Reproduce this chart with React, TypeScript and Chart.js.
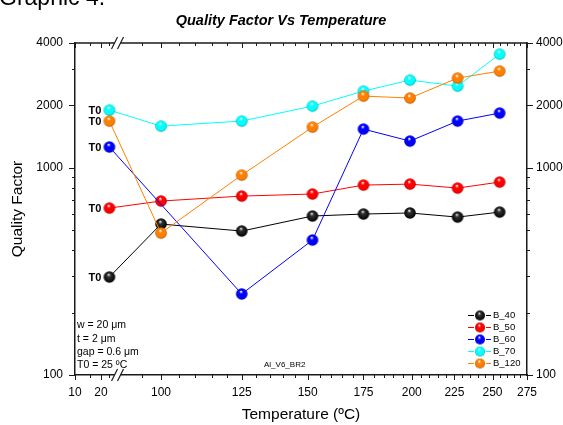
import React, { useEffect, useRef } from 'react';
import { Chart, registerables, LinearScale } from 'chart.js';

const FONT = "'Liberation Sans', Arial, Helvetica, sans-serif";

// ---- data ----
const TEMPS = [25, 100, 125, 152, 175, 199, 227, 255];
const B_40 = [297, 535, 495, 585, 598, 605, 578, 611];
const B_50 = [639, 691, 730, 747, 825, 834, 798, 853];
const B_60 = [1259, null, 246, 448, 1537, 1345, 1680, 1836];
const B_70 = [1898, 1589, 1680, 1984, 2344, 2649, 2478, 3536];
const B_120 = [1680, 484, 922, 1571, 2218, 2170, 2708, 2928];
const SERIES = [B_40, B_50, B_60, B_70, B_120];
const SERIES_NAMES = ['B_40', 'B_50', 'B_60', 'B_70', 'B_120'];
const SERIES_COLORS = ['#000000', '#ff0000', '#0000ff', '#00ffff', '#ff8000'];

const X_TICKS = [10, 20, 100, 125, 150, 175, 200, 225, 250, 275];
const X_MINOR_A = [15, 25];
const Y_TICKS = [100, 1000, 2000, 4000];
const Y_MINOR = [200, 300, 400, 500, 600, 700, 800, 900, 3000];

const TITLE = 'Quality Factor Vs Temperature';
const X_TITLE = 'Temperature (ºC)';
const Y_TITLE = 'Quality Factor';
const HEADER = 'Graphic 4.';
const NOTES = ['w = 20 μm', 't = 2 μm', 'gap = 0.6 μm', 'T0 = 25 ºC'];
const SAMPLE = 'Al_V6_BR2';
const T0_LABEL = 'T0';

// ---- broken log x axis definition ----
const SEG_A = { lo: 10, hi: 30, f0: 0, f1: 0.0912 };
const SEG_B = { lo: 89, hi: 275, f0: 0.097, f1: 1 };

function segFrac(v: number, s: any) {
  return s.f0 + ((Math.log10(v) - Math.log10(s.lo)) / (Math.log10(s.hi) - Math.log10(s.lo))) * (s.f1 - s.f0);
}
function segVal(f: number, s: any) {
  const t = (f - s.f0) / (s.f1 - s.f0);
  return Math.pow(10, Math.log10(s.lo) + t * (Math.log10(s.hi) - Math.log10(s.lo)));
}
function brokenFrac(v: number) {
  if (v <= SEG_A.hi) return segFrac(Math.max(v, 1e-6), SEG_A);
  if (v >= SEG_B.lo) return segFrac(v, SEG_B);
  return SEG_A.f1 + ((v - SEG_A.hi) / (SEG_B.lo - SEG_A.hi)) * (SEG_B.f0 - SEG_A.f1);
}
function brokenValue(f: number) {
  if (f <= SEG_A.f1) return segVal(f, SEG_A);
  if (f >= SEG_B.f0) return segVal(f, SEG_B);
  return SEG_A.hi + ((f - SEG_A.f1) / (SEG_B.f0 - SEG_A.f1)) * (SEG_B.lo - SEG_A.hi);
}

class BrokenLogScale extends LinearScale {
  static id = 'brokenlog';
  static defaults = LinearScale.defaults;
  determineDataLimits() {
    (this as any).min = SEG_A.lo;
    (this as any).max = SEG_B.hi;
  }
  buildTicks() {
    return X_TICKS.map((value) => ({ value }));
  }
  getPixelForValue(value: number) {
    return (this as any).getPixelForDecimal(brokenFrac(value));
  }
  getValueForPixel(pixel: number) {
    return brokenValue((this as any).getDecimalForPixel(pixel));
  }
}

Chart.register(...registerables, BrokenLogScale as any);

function darken(hex: string, k: number) {
  const n = parseInt(hex.slice(1), 16);
  const r = Math.round(((n >> 16) & 255) * k);
  const g = Math.round(((n >> 8) & 255) * k);
  const b = Math.round((n & 255) * k);
  return `rgb(${r},${g},${b})`;
}

function makeSphere(color: string, r: number) {
  const size = Math.ceil(2 * r + 2);
  const c = document.createElement('canvas');
  c.width = size;
  c.height = size;
  const g = c.getContext('2d') as CanvasRenderingContext2D;
  const cx = size / 2;
  const cy = size / 2;
  const isBlack = color === '#000000';
  const grad = g.createRadialGradient(cx - r * 0.15, cy - r * 0.45, r * 0.05, cx, cy, r);
  grad.addColorStop(0, isBlack ? '#e0e0e0' : '#ffffff');
  grad.addColorStop(0.3, isBlack ? '#303030' : color);
  grad.addColorStop(0.8, isBlack ? '#101010' : color);
  grad.addColorStop(1, isBlack ? '#000000' : darken(color, 0.65));
  g.fillStyle = grad;
  g.beginPath();
  g.arc(cx, cy, r, 0, Math.PI * 2);
  g.fill();
  return c;
}

const AXIS_COLOR = '#1a1a1a';

export default function App() {
  const ref = useRef<HTMLCanvasElement>(null);

  useEffect(() => {
    const sprites = SERIES_COLORS.map((c) => makeSphere(c, 5.8));
    const legendSprites = SERIES_COLORS.map((c) => makeSphere(c, 5));

    const decor = {
      id: 'decor',
      afterDraw(chart: any) {
        const { ctx, chartArea: ca, scales } = chart;
        const xs = scales.x;
        const ys = scales.y;
        ctx.save();
        const seg = (x1: number, y1: number, x2: number, y2: number) => {
          ctx.beginPath();
          ctx.moveTo(x1, y1);
          ctx.lineTo(x2, y2);
          ctx.stroke();
        };
        // top axis line
        ctx.strokeStyle = AXIS_COLOR;
        ctx.lineWidth = 1.5;
        seg(ca.left - 0.75, ca.top, ca.right + 0.75, ca.top);

        // ticks
        ctx.lineWidth = 1;
        const xMinor: number[] = [...X_MINOR_A];
        for (let v = 95; v < 275; v += 5) if (v % 25 !== 0) xMinor.push(v);
        X_TICKS.forEach((v) => {
          const p = Math.round(xs.getPixelForValue(v)) + 0.5;
          seg(p, ca.bottom, p, ca.bottom + 5);
          seg(p, ca.top, p, ca.top + 5);
        });
        xMinor.forEach((v) => {
          const p = Math.round(xs.getPixelForValue(v)) + 0.5;
          seg(p, ca.bottom, p, ca.bottom + 3);
          seg(p, ca.top, p, ca.top + 3);
        });
        Y_TICKS.forEach((v) => {
          const p = Math.round(ys.getPixelForValue(v)) + 0.5;
          seg(ca.left - 6, p, ca.left, p);
          seg(ca.right, p, ca.right + 6, p);
        });
        Y_MINOR.forEach((v) => {
          const p = Math.round(ys.getPixelForValue(v)) + 0.5;
          seg(ca.left - 3, p, ca.left, p);
          seg(ca.right, p, ca.right + 3, p);
        });

        // axis break marks
        const bx = (xs.getPixelForValue(SEG_A.hi) + xs.getPixelForValue(SEG_B.lo)) / 2;
        [ca.top, ca.bottom].forEach((yy: number) => {
          ctx.fillStyle = '#ffffff';
          ctx.fillRect(bx - 3, yy - 2, 6, 4);
          ctx.strokeStyle = AXIS_COLOR;
          ctx.lineWidth = 1.2;
          [bx - 3, bx + 3].forEach((s) => seg(s - 3, yy + 6, s + 3, yy - 6));
        });

        // title & header
        ctx.fillStyle = '#000';
        ctx.textAlign = 'center';
        ctx.textBaseline = 'middle';
        ctx.font = `italic bold 14.5px ${FONT}`;
        ctx.fillText(TITLE, 281, 21);
        ctx.textAlign = 'left';
        ctx.textBaseline = 'alphabetic';
        ctx.font = `23px ${FONT}`;
        ctx.fillText(HEADER, -1, 5);

        // T0 labels
        ctx.font = `bold 11px ${FONT}`;
        ctx.textAlign = 'right';
        ctx.textBaseline = 'middle';
        chart.data.datasets.forEach((_d: any, i: number) => {
          const pt = chart.getDatasetMeta(i).data[0];
          if (pt) ctx.fillText(T0_LABEL, pt.x - 8, pt.y + 0.5);
        });

        // notes
        ctx.font = `10.5px ${FONT}`;
        ctx.textAlign = 'left';
        NOTES.forEach((t, i) => ctx.fillText(t, ca.left + 2, 325.5 + i * 13.2));
        ctx.font = `8px ${FONT}`;
        ctx.fillText(SAMPLE, 264, 365);

        // legend
        ctx.font = `9.5px ${FONT}`;
        SERIES_NAMES.forEach((name, i) => {
          const y = 315 + i * 12;
          ctx.strokeStyle = SERIES_COLORS[i];
          ctx.lineWidth = 1;
          seg(468, y + 0.5, 474, y + 0.5);
          seg(486, y + 0.5, 491, y + 0.5);
          const sp = legendSprites[i];
          ctx.drawImage(sp, 480 - sp.width / 2, y - sp.height / 2 + 0.5);
          ctx.fillStyle = '#000';
          ctx.fillText(name, 493, y + 0.5);
        });
        ctx.restore();
      },
    };

    const tickFont = { size: 12, family: FONT };
    const chart = new Chart(ref.current as HTMLCanvasElement, {
      type: 'line',
      data: {
        datasets: SERIES.map((vals, i) => ({
          label: SERIES_NAMES[i],
          data: TEMPS.map((t, j) => ({ x: t, y: vals[j] })),
          borderColor: SERIES_COLORS[i],
          backgroundColor: SERIES_COLORS[i],
          borderWidth: 1,
          pointStyle: sprites[i],
          pointRadius: 6,
          spanGaps: true,
          tension: 0,
          order: SERIES.length - i,
          xAxisID: 'x',
          yAxisID: 'y',
        })),
      } as any,
      options: {
        responsive: false,
        animation: false,
        devicePixelRatio: 1,
        layout: { padding: { top: 43, left: 0, right: 0, bottom: 0 } },
        plugins: { legend: { display: false }, tooltip: { enabled: false }, title: { display: false } },
        scales: {
          x: {
            type: 'brokenlog' as any,
            min: 10,
            max: 275,
            border: { display: true, color: AXIS_COLOR, width: 1.5 },
            grid: { display: false, drawTicks: false },
            ticks: {
              font: tickFont,
              color: '#000',
              padding: 10,
              maxRotation: 0,
              autoSkip: false,
              callback: (v: any) => String(v),
            },
            title: {
              display: true,
              text: X_TITLE,
              color: '#000',
              font: { size: 15.5, family: FONT },
              padding: { top: 0, bottom: 1 },
            },
            afterFit: (s: any) => {
              s.height = 50;
            },
          },
          y: {
            type: 'logarithmic',
            position: 'left',
            min: 100,
            max: 4000,
            border: { display: true, color: AXIS_COLOR, width: 1.5 },
            grid: { display: false, drawTicks: false },
            afterBuildTicks: (s: any) => {
              s.ticks = Y_TICKS.map((value) => ({ value }));
            },
            ticks: { font: tickFont, color: '#000', padding: 12, autoSkip: false, callback: (v: any) => String(v) },
            title: {
              display: true,
              text: Y_TITLE,
              color: '#000',
              font: { size: 15.5, family: FONT },
              padding: { top: 8, bottom: 0 },
            },
            afterFit: (s: any) => {
              s.width = 75;
            },
          },
          y2: {
            type: 'logarithmic',
            position: 'right',
            min: 100,
            max: 4000,
            border: { display: true, color: AXIS_COLOR, width: 1.5 },
            grid: { display: false, drawTicks: false },
            afterBuildTicks: (s: any) => {
              s.ticks = Y_TICKS.map((value) => ({ value }));
            },
            ticks: { font: tickFont, color: '#000', padding: 9, autoSkip: false, callback: (v: any) => String(v) },
            afterFit: (s: any) => {
              s.width = 36;
            },
          },
        },
      } as any,
      plugins: [decor],
    });
    return () => chart.destroy();
  }, []);

  return (
    <div style={{ position: 'fixed', left: 0, top: 0, width: 563, height: 425, background: '#ffffff', overflow: 'hidden' }}>
      <canvas ref={ref} width={563} height={425} style={{ display: 'block', width: 563, height: 425 }} />
    </div>
  );
}
